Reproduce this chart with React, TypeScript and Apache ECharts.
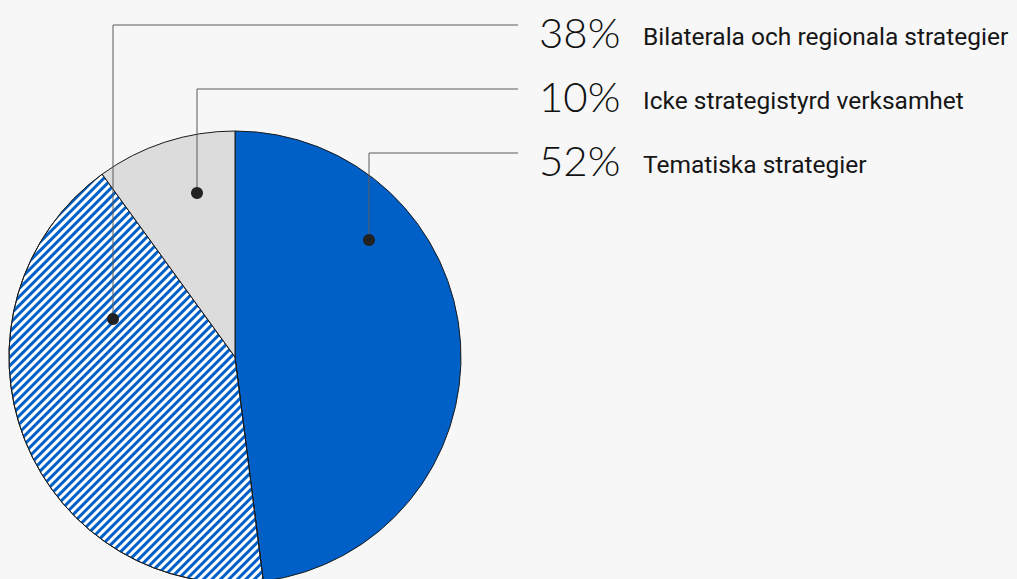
import React, { useEffect, useRef } from "react";
import * as echarts from "echarts";

// Categories in legend order (top to bottom)
const categories = [
  "Bilaterala och regionala strategier",
  "Icke strategistyrd verksamhet",
  "Tematiska strategier",
];
// Percentages as printed next to the categories
const printedPercents = ["38%", "10%", "52%"];
// Slice shares as drawn in the pie (clockwise from 12 o'clock): Tematiska, Bilaterala, Icke
const sliceNames = ["Tematiska strategier", "Bilaterala och regionala strategier", "Icke strategistyrd verksamhet"];
const sliceValues = [48, 42, 10];

const BLUE = "#0060c8";
const GRAY = "#dcdcdc";
const BG = "#f7f7f7";

export default function App() {
  const ref = useRef<HTMLDivElement>(null);
  useEffect(() => {
    if (!ref.current) return;
    const chart = echarts.init(ref.current, undefined, { renderer: "svg" });

    const styles: Record<string, any> = {
      "Tematiska strategier": { color: BLUE },
      "Bilaterala och regionala strategier": {
        color: "#ffffff",
        decal: {
          symbol: "rect",
          symbolSize: 1,
          color: BLUE,
          dashArrayX: [1, 0],
          dashArrayY: [3, 3],
          rotation: -Math.PI / 4,
        },
      },
      "Icke strategistyrd verksamhet": { color: GRAY },
    };

    // annotation geometry (dot position, row y)
    const dotPos: Record<string, [number, number]> = {
      "Bilaterala och regionala strategier": [113, 319],
      "Icke strategistyrd verksamhet": [197, 193],
      "Tematiska strategier": [369, 240],
    };
    const rowLineY = [25, 89, 153];
    const lineEndX = 518;

    const graphics: any[] = [];
    categories.forEach((cat, i) => {
      const [dx, dy] = dotPos[cat];
      const ly = rowLineY[i];
      graphics.push({
        type: "polyline",
        silent: true,
        z: 10,
        shape: { points: [[dx, dy], [dx, ly], [lineEndX, ly]] },
        style: { stroke: "#5a5a5a", lineWidth: 1, fill: "none" },
      });
      graphics.push({
        type: "circle",
        silent: true,
        z: 11,
        shape: { cx: dx, cy: dy, r: 6 },
        style: { fill: "#222222" },
      });
      graphics.push({
        type: "text",
        silent: true,
        z: 11,
        x: 539,
        y: ly + 7,
        style: {
          text: printedPercents[i],
          font: "300 42px Lato",
          fill: "#111111",
          textVerticalAlign: "middle",
        },
      });
      graphics.push({
        type: "text",
        silent: true,
        z: 11,
        x: 643,
        y: ly + 11,
        style: {
          text: cat,
          font: "400 24.5px Roboto",
          fill: "#161616",
          textVerticalAlign: "middle",
        },
      });
    });

    chart.setOption({
      animation: false,
      backgroundColor: BG,
      series: [
        {
          type: "pie",
          center: [235, 357],
          radius: 226,
          startAngle: 90,
          clockwise: true,
          label: { show: false },
          labelLine: { show: false },
          emphasis: { disabled: true },
          itemStyle: { borderColor: "#1a1a1a", borderWidth: 1 },
          data: sliceNames.map((n, i) => ({
            name: n,
            value: sliceValues[i],
            itemStyle: styles[n],
          })),
        },
      ],
      graphic: graphics,
    });
    return () => chart.dispose();
  }, []);
  return (
    <div
      ref={ref}
      style={{ position: "absolute", left: 0, top: 0, width: 1017, height: 579 }}
    />
  );
}
